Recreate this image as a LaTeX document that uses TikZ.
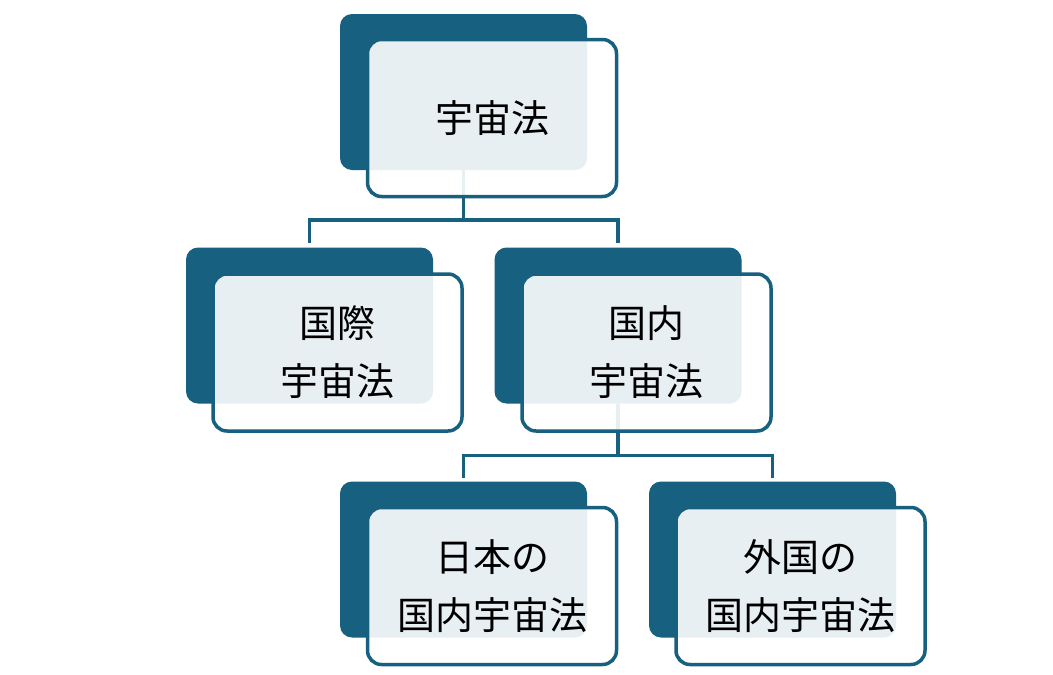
\documentclass[tikz,border=0pt]{standalone}
\usepackage{fontspec}
\newfontfamily\cjk{Noto Sans CJK JP}
\definecolor{dk}{RGB}{23,96,127}
\begin{document}
\begin{tikzpicture}[x=1pt,y=1pt,
  back/.style={rectangle, rounded corners=12pt, fill=dk, draw=none,
    minimum width=247pt, minimum height=156pt, inner sep=0pt, outer sep=0pt},
  front/.style={rectangle, rounded corners=14pt, draw=dk, line width=3.5pt,
    fill=white, fill opacity=0.9, text opacity=1,
    minimum width=249pt, minimum height=157pt, inner sep=0pt, outer sep=0pt,
    align=center, font=\cjk\fontsize{38}{58}\selectfont},
  conn/.style={draw=dk, line width=3.5pt}]
\useasboundingbox (0,0) rectangle (1053,-675);
% back boxes
\node[back] (b1) at (463.5,-92) {};
\node[back] (b2) at (309.5,-325.5) {};
\node[back] (b3) at (618,-325.5) {};
\node[back] (b4) at (463.5,-559.5) {};
\node[back] (b5) at (772.5,-559.5) {};
% connectors
\draw[conn] (b1.south) -- ++(0,-50) coordinate (j1);
\draw[conn] (b2.north) ++(0,5) |- (j1) -| ([yshift=5pt]b3.north);
\draw[conn] (b3.south) -- ++(0,-52) coordinate (j2);
\draw[conn] (b4.north) ++(0,4) |- (j2) -| ([yshift=4pt]b5.north);
% front boxes
\node[front] (f1) at (492,-118) {宇宙法};
\node[front] (f2) at (337.5,-352.5) {国際\\宇宙法};
\node[front] (f3) at (646.5,-352.5) {国内\\宇宙法};
\node[front] (f4) at (492,-586) {日本の\\国内宇宙法};
\node[front] (f5) at (800.5,-586) {外国の\\国内宇宙法};
\end{tikzpicture}
\end{document}
